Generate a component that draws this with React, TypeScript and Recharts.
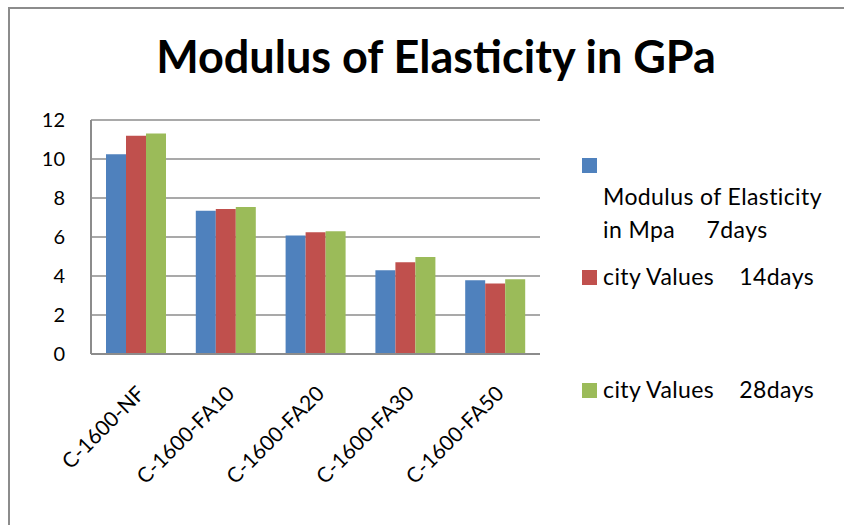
import React from 'react';
import { BarChart, Bar, XAxis, YAxis, CartesianGrid } from 'recharts';

const categories = ['C-1600-NF', 'C-1600-FA10', 'C-1600-FA20', 'C-1600-FA30', 'C-1600-FA50'];
const days7 = [10.24, 7.35, 6.08, 4.29, 3.78];
const days14 = [11.19, 7.44, 6.24, 4.7, 3.62];
const days28 = [11.31, 7.54, 6.29, 4.97, 3.83];
const yTicks = [0, 2, 4, 6, 8, 10, 12];

const seriesNames = [
  'Modulus of Elasticity in Mpa     7days',
  'city Values    14days',
  'city Values    28days',
];
const colors = ['#4F81BD', '#C0504D', '#9BBB59'];

const data = categories.map((name, i) => ({
  name,
  d7: days7[i],
  d14: days14[i],
  d28: days28[i],
}));

const FONT = 'Lato, "Open Sans", sans-serif';
const GRID = '#8c8c8c';

const XTick = (props: any) => {
  const { x, y, payload } = props;
  const tx = x + 10;
  const ty = y + 33;
  return (
    <text
      x={tx}
      y={ty}
      transform={`rotate(-45 ${tx} ${ty})`}
      textAnchor="end"
      fontFamily={FONT}
      fontSize={21}
      fill="#000"
    >
      {payload.value}
    </text>
  );
};

export default function App() {
  return (
    <div style={{ position: 'absolute', left: 0, top: 0, width: 844, height: 525, overflow: 'hidden', background: '#fff' }}>
      {/* outer chart frame, clipped at right and bottom */}
      <div
        style={{
          position: 'absolute',
          left: 8,
          top: 7,
          width: 860,
          height: 540,
          border: `2px solid ${GRID}`,
          boxSizing: 'border-box',
        }}
      />
      <BarChart
        width={844}
        height={525}
        data={data}
        margin={{ top: 120, right: 304, bottom: 21, left: 0 }}
        barCategoryGap={15}
        barGap={0}
        style={{ position: 'absolute', left: 0, top: 0 }}
      >
        <CartesianGrid vertical={false} stroke={GRID} strokeWidth={1.5} />
        <XAxis
          dataKey="name"
          height={150}
          interval={0}
          tickLine={false}
          axisLine={{ stroke: GRID, strokeWidth: 2 }}
          tick={<XTick />}
        />
        <YAxis
          width={91}
          domain={[0, 12]}
          ticks={yTicks}
          interval={0}
          tickLine={false}
          tickMargin={20}
          axisLine={{ stroke: GRID, strokeWidth: 2 }}
          tick={{ fontFamily: FONT, fontSize: 20, fill: '#000' }}
        />
        <Bar dataKey="d7" name={seriesNames[0]} fill={colors[0]} isAnimationActive={false} />
        <Bar dataKey="d14" name={seriesNames[1]} fill={colors[1]} isAnimationActive={false} />
        <Bar dataKey="d28" name={seriesNames[2]} fill={colors[2]} isAnimationActive={false} />
      </BarChart>
      <svg width={844} height={525} style={{ position: 'absolute', left: 0, top: 0, pointerEvents: 'none' }}>
        <text x={436} y={73} textAnchor="middle" fontFamily={FONT} fontWeight="bold" fontSize={45} fill="#000">
          Modulus of Elasticity in GPa
        </text>
        {/* legend */}
        <rect x={582} y={158} width={15} height={15} fill={colors[0]} />
        <text x={603} y={205} fontFamily={FONT} fontSize={23} letterSpacing={0.4} fill="#000">Modulus of Elasticity</text>
        <text x={603} y={238} fontFamily={FONT} fontSize={23} letterSpacing={0.4} fill="#000" style={{ whiteSpace: 'pre' }}>
          {'in Mpa     7days'}
        </text>
        <rect x={582} y={270} width={15} height={15} fill={colors[1]} />
        <text x={603} y={285} fontFamily={FONT} fontSize={23} letterSpacing={0.4} fill="#000" style={{ whiteSpace: 'pre' }}>
          {seriesNames[1]}
        </text>
        <rect x={582} y={383} width={15} height={15} fill={colors[2]} />
        <text x={603} y={398} fontFamily={FONT} fontSize={23} letterSpacing={0.4} fill="#000" style={{ whiteSpace: 'pre' }}>
          {seriesNames[2]}
        </text>
      </svg>
    </div>
  );
}
